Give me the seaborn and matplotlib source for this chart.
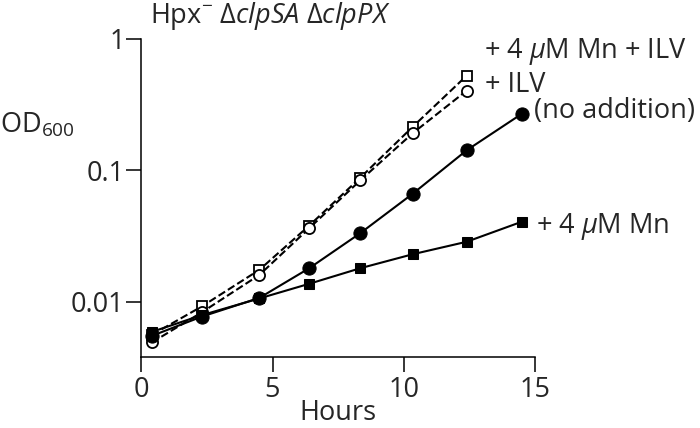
import numpy as np
import pandas as pd
import matplotlib
matplotlib.use("Agg")
import matplotlib.pyplot as plt
import seaborn as sns

# Growth data (OD600 vs hours)
hours = [0.4, 2.3, 4.5, 6.4, 8.35, 10.35, 12.4, 14.5]
hours_ilv = [0.4, 2.3, 4.5, 6.4, 8.35, 10.35, 12.4]

od_none = [0.0055, 0.0077, 0.0107, 0.018, 0.0333, 0.0665, 0.142, 0.269]
od_mn = [0.0059, 0.0079, 0.0106, 0.0137, 0.018, 0.023, 0.0286, 0.0406]
od_ilv = [0.0049, 0.0083, 0.016, 0.0363, 0.084, 0.192, 0.404]
od_mn_ilv = [0.0056, 0.0092, 0.0175, 0.038, 0.088, 0.215, 0.525]

labels = ["+ 4 $\\mu$M Mn + ILV", "+ ILV", "(no addition)", "+ 4 $\\mu$M Mn"]

sns.set_style("ticks")
plt.rcParams['font.family'] = ['Open Sans', 'DejaVu Sans']
plt.rcParams['mathtext.fontset'] = 'custom'
plt.rcParams['mathtext.rm'] = 'Open Sans'
plt.rcParams['mathtext.it'] = 'Open Sans:italic'

fs = 19.5
fig = plt.figure(figsize=(7, 4.28), dpi=100)
ax = fig.add_axes([0.202, 0.166, 0.562, 0.743])

lw = 1.5
sns.lineplot(x=hours_ilv, y=od_mn_ilv, ax=ax, color='black', lw=lw,
             linestyle='--', dashes=(5.5, 2.7), marker='s', markersize=7,
             markerfacecolor='white', markeredgecolor='black', markeredgewidth=1.3)
sns.lineplot(x=hours_ilv, y=od_ilv, ax=ax, color='black', lw=lw,
             linestyle='--', dashes=(5.5, 2.7), marker='o', markersize=8,
             markerfacecolor='white', markeredgecolor='black', markeredgewidth=1.3)
sns.lineplot(x=hours, y=od_mn, ax=ax, color='black', lw=lw,
             marker='s', markersize=7, markeredgecolor='black')
sns.lineplot(x=hours, y=od_none, ax=ax, color='black', lw=lw,
             marker='o', markersize=9.5, markeredgecolor='black')

ax.set_yscale('log')
ax.set_xlim(0, 15)
ax.set_ylim(0.0038, 1)
ax.set_xticks([0, 5, 10, 15])
ax.set_yticks([0.01, 0.1, 1])
ax.set_yticklabels(['0.01', '0.1', '1'])
ax.minorticks_off()
ax.tick_params(length=11, width=1.1, labelsize=fs, color='black')
ax.tick_params(axis='x', pad=3)
ax.tick_params(axis='y', pad=1)
for s in ['left', 'bottom']:
    ax.spines[s].set_linewidth(1.1)
    ax.spines[s].set_color('black')
sns.despine(ax=ax)

ax.set_xlabel("Hours", fontsize=fs, labelpad=-4)
ax.set_ylabel("")
fig.text(0.0, 1 - 125 / 428, "OD$_{600}$", fontsize=fs, ha='left', va='center')
fig.text(150 / 700, 1 - 16 / 428,
         "Hpx$^{-}$ \u0394$\\mathit{clpSA}$ \u0394$\\mathit{clpPX}$",
         fontsize=fs, ha='left', va='center')

# end-of-line labels
ends = [(hours_ilv[-1], od_mn_ilv[-1], (17, 24)),
        (hours_ilv[-1], od_ilv[-1], (18, 6)),
        (hours[-1], od_none[-1], (12, 3)),
        (hours[-1], od_mn[-1], (14, -5))]
for lab, (x, y, off) in zip(labels, ends):
    ax.annotate(lab, xy=(x, y), xytext=off, textcoords='offset pixels',
                fontsize=fs, ha='left', va='center')

fig.savefig("out.png", dpi=100)
